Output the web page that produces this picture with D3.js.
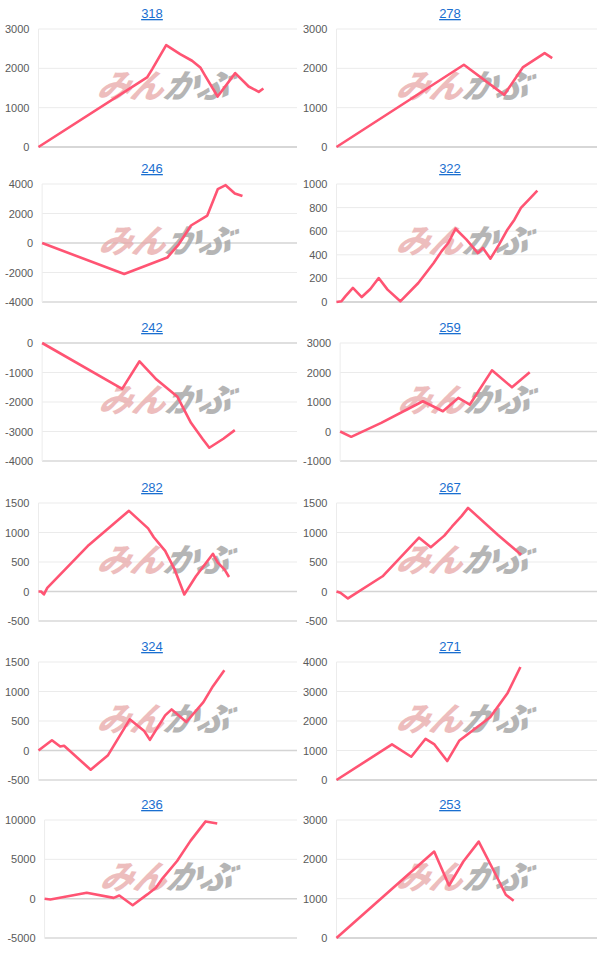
<!DOCTYPE html>
<html>
<head>
<meta charset="utf-8">
<script src="https://cdn.jsdelivr.net/npm/d3@7"></script>
<style>
  body { margin: 0; background: #fff; }
  text { font-family: Arial, "Liberation Sans", sans-serif; }
</style>
</head>
<body>
<svg id="chart" width="598" height="954"></svg>
<script>
const W = 598, H = 954;

// titles, row by row (left, right)
const titles = ["318", "278", "246", "322", "242", "259", "282", "267", "324", "271", "236", "253"];

// y tick labels per panel
const ticks = [
  [0, 1000, 2000, 3000],
  [0, 1000, 2000, 3000],
  [-4000, -2000, 0, 2000, 4000],
  [0, 200, 400, 600, 800, 1000],
  [-4000, -3000, -2000, -1000, 0],
  [-1000, 0, 1000, 2000, 3000],
  [-500, 0, 500, 1000, 1500],
  [-500, 0, 500, 1000, 1500],
  [-500, 0, 500, 1000, 1500],
  [0, 1000, 2000, 3000, 4000],
  [-5000, 0, 5000, 10000],
  [0, 1000, 2000, 3000]
];

// series: [day (0-100), profit]
const s318 = [[0,0],[42,1768],[44,1980],[49.4,2592],[54.8,2363],[59.4,2193],[62.6,2023],[64.5,1810],[69.3,1283],[76.1,1878],[81.3,1538],[85.2,1402],[87,1487]];
const s278 = [[0,0],[48.9,2091],[64.4,1326],[71.5,2023],[79.9,2388],[82.8,2261]];
const s246 = [[0,0],[32.2,-2106],[49.1,-986],[53.6,-90],[58.4,1187],[64.8,1859],[68.9,3651],[72,3920],[75.6,3360],[78.6,3181]];
const s322 = [[0,0],[1.9,6],[3.4,48],[6.3,119],[9.7,42],[13,110],[16.2,203],[19.6,105],[24.5,6],[31.4,161],[37.3,331],[40.3,429],[42.9,500],[45.7,621],[49.9,528],[54.3,415],[56.2,458],[59.1,367],[62.4,486],[65.6,613],[68.3,698],[70.8,797],[74.2,876],[77.1,944]];
const s242 = [[0,0],[31.4,-1555],[38.2,-620],[44.9,-1240],[53.1,-1826],[58.4,-2705],[62.9,-3245],[65.6,-3550],[71.1,-3245],[75.6,-2953]];
const s259 = [[0,0],[4.3,-180],[16,293],[32.2,1025],[40,687],[46,1138],[50.5,913],[59.1,2073],[66.9,1499],[73.8,2006]];
const s282 = [[0,0],[1,0],[2.1,-50],[3.4,62],[19.5,790],[35,1367],[42.4,1070],[44.6,919],[49,689],[52.7,370],[56.4,-50],[60.9,258],[67.5,639],[69.3,493],[72,370],[73.7,246]];
const s267 = [[0,0],[1.5,-22],[4.4,-118],[17.7,258],[31.7,913],[36.2,751],[41.4,947],[44.3,1098],[48,1277],[50.5,1417],[62,958],[70.9,622]];
const s324 = [[0,0],[5.2,174],[8.4,67],[9.9,79],[20.2,-326],[26.9,-79],[35.3,528],[40.9,331],[43.1,180],[49,596],[51.5,697],[57.2,483],[63.8,820],[67.5,1090],[71.9,1360]];
const s271 = [[0,0],[21.3,1206],[28.7,789],[34.2,1397],[37.6,1206],[42.5,642],[47.2,1341],[59,2130],[65.7,2952],[70.6,3831]];
const s236 = [[0,0],[2.3,-100],[16.7,750],[27.4,100],[29.6,400],[34.9,-830],[40.7,540],[44.1,1390],[46.4,2450],[52.5,4790],[57.8,7350],[63.8,9820],[68.4,9560]];
const s253 = [[0,0],[37.5,2197],[43.2,1335],[48.7,1944],[54.6,2451],[61.3,1589],[65,1099],[68,946]];
const series = [s318, s278, s246, s322, s242, s259, s282, s267, s324, s271, s236, s253];

const rowTops = [29, 184, 343, 503, 662, 820];
const plotH = 118;
const colX = [0, 298];
const colRight = [297, 597];

const svg = d3.select("#chart");

titles.forEach((t, i) => {
  const row = Math.floor(i / 2), col = i % 2;
  const top = rowTops[row], bottom = top + plotH;
  const g = svg.append("g");

  // measure the widest tick label to place the plot area
  const probe = g.append("text").style("font-size", "11px");
  let maxW = 0;
  ticks[i].forEach(v => { probe.text(v); maxW = Math.max(maxW, probe.node().getComputedTextLength()); });
  probe.remove();
  const left = colX[col] + 5 + maxW + 9;
  const right = colRight[col];

  const x = d3.scaleLinear().domain([0, 100]).range([left, right]);
  const y = d3.scaleLinear().domain(d3.extent(ticks[i])).range([bottom, top]);

  // gridlines
  g.selectAll(".grid").data(ticks[i]).join("line")
    .attr("x1", left).attr("x2", right)
    .attr("y1", d => y(d)).attr("y2", d => y(d))
    .attr("stroke", d => d === 0 ? "#d4d4d4" : "#ebebeb")
    .attr("stroke-width", d => d === 0 ? 1.5 : 1);
  g.append("line").attr("x1", left).attr("x2", right).attr("y1", bottom).attr("y2", bottom)
    .attr("stroke", "#cfcfcf").attr("stroke-width", 1.2);
  g.append("line").attr("x1", left).attr("x2", left).attr("y1", top).attr("y2", bottom)
    .attr("stroke", "#ececec");

  // y labels
  g.selectAll(".lab").data(ticks[i]).join("text")
    .attr("x", left - 9).attr("y", d => y(d) + 4)
    .attr("text-anchor", "end")
    .style("font-size", "11px").attr("fill", "#5a5a5a")
    .text(d => d);

  // title
  g.append("text")
    .attr("x", colX[col] + 152).attr("y", top - 11)
    .attr("text-anchor", "middle")
    .style("font-size", "13px").attr("fill", "#1a6fd0")
    .attr("text-decoration", "underline")
    .text(t);

  // watermark
  const cx = (left + right) / 2 - 6, cy = top + 69;
  const wm = g.append("text").attr("x", cx).attr("y", cy)
    .attr("text-anchor", "middle")
    .style("font-size", "33px").style("font-weight", "900").style("font-style", "italic")
    .style("font-family", "'Noto Sans CJK JP', sans-serif")
    .attr("transform", `skewX(-14) translate(${cy * Math.tan(14 * Math.PI / 180)},0)`);
  wm.append("tspan").attr("fill", "#e8a8a8").attr("opacity", 0.75).text("みん");
  wm.append("tspan").attr("fill", "#a9a9a9").attr("opacity", 0.85).text("かぶ");

  // line
  g.append("path").datum(series[i])
    .attr("fill", "none").attr("stroke", "#ff5473").attr("stroke-width", 2.6)
    .attr("stroke-linejoin", "round")
    .attr("d", d3.line().x(d => x(d[0])).y(d => y(d[1])));
});
</script>
</body>
</html>
